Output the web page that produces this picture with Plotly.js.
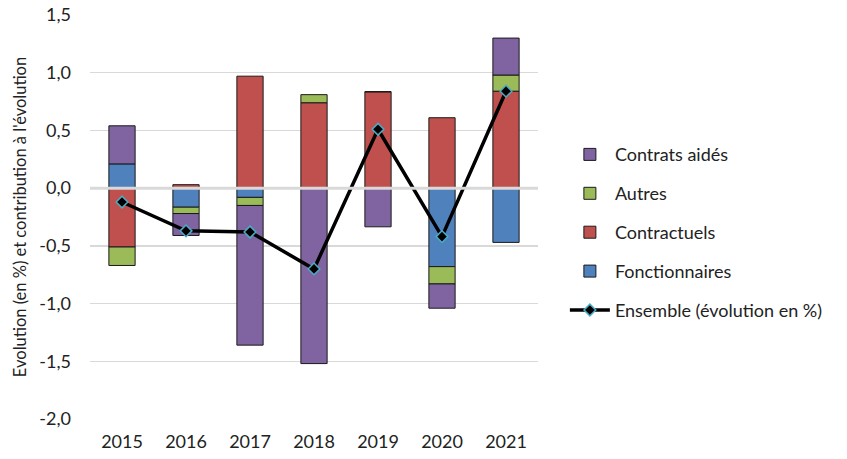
<!DOCTYPE html>
<html>
<head>
<meta charset="utf-8">
<script src="https://cdn.plot.ly/plotly-3.0.1.min.js"></script>
<style>html,body{margin:0;padding:0;background:#fff;}#chart{width:847px;height:459px;}</style>
</head>
<body>
<div id="chart"></div>
<script>
var years = ['2015', '2016', '2017', '2018', '2019', '2020', '2021'];
var fonctionnaires = [0.21, -0.165, -0.08, 0, 0, -0.68, -0.47];
var contractuels = [-0.51, 0.03, 0.97, 0.74, 0.835, 0.61, 0.84];
var autres = [-0.16, -0.055, -0.07, 0.07, 0, -0.15, 0.14];
var contratsAides = [0.33, -0.19, -1.21, -1.52, -0.335, -0.21, 0.32];
var ensemble = [-0.12, -0.37, -0.38, -0.70, 0.51, -0.42, 0.84];
var yTicks = [-2.0, -1.5, -1.0, -0.5, 0.0, 0.5, 1.0, 1.5];
var yTickText = ['-2,0', '-1,5', '-1,0', '-0,5', '0,0', '0,5', '1,0', '1,5'];

var font = 'Lato, "Open Sans", sans-serif';
function bar(name, y, color, rank) {
  return {type: 'bar', name: name, x: years, y: y, legendrank: rank, legendgroup: name,
    marker: {color: color, line: {color: '#1a1a1a', width: 1}},
    hoverinfo: 'skip'};
}
var traces = [
  bar('Fonctionnaires', fonctionnaires, '#4F81BD', 4),
  bar('Contractuels', contractuels, '#C0504D', 3),
  bar('Autres', autres, '#9BBB59', 2),
  bar('Contrats aidés', contratsAides, '#8064A2', 1),
  {type: 'scatter', mode: 'lines+markers', name: 'Ensemble (évolution en %)', x: years, y: ensemble,
   legendrank: 5, legendgroup: 'ens', hoverinfo: 'skip',
   line: {color: '#000000', width: 3.5},
   marker: {symbol: 'diamond', size: 9, color: '#000000', line: {color: '#4BACC6', width: 1.5}}}
];
var layout = {
  width: 847, height: 459,
  margin: {l: 90, r: 309, t: 15, b: 40},
  paper_bgcolor: '#ffffff', plot_bgcolor: '#ffffff',
  barmode: 'relative', bargap: 0.59,
  font: {family: font, size: 18, color: '#222222'},
  xaxis: {type: 'category', showgrid: false, zeroline: false, showline: false,
    ticks: '', tickfont: {family: font, size: 18, color: '#222'}, ticklabelstandoff: 10},
  yaxis: {range: [-2.0, 1.5], tickmode: 'array', tickvals: yTicks, ticktext: yTickText,
    showgrid: true, gridcolor: '#d9d9d9', gridwidth: 1.5, zeroline: false, showline: false,
    ticks: '', tickfont: {family: font, size: 18, color: '#222'}, ticklabelstandoff: 18,
    title: {text: "Evolution (en %) et contribution à l'évolution", font: {family: font, size: 16.5, color: '#222'}, standoff: 8}},
  legend: {x: 1.06, y: 0.70, xanchor: 'left', yanchor: 'top', bgcolor: 'rgba(0,0,0,0)',
    font: {family: font, size: 18, color: '#222'}, tracegroupgap: 12.5, itemwidth: 40},
  shapes: [{type: 'line', xref: 'paper', yref: 'y', x0: 0, x1: 1, y0: 0, y1: 0, layer: 'above',
    line: {color: '#d9d9d9', width: 3}}]
};
Plotly.newPlot('chart', traces, layout, {displayModeBar: false, staticPlot: true});
</script>
</body>
</html>
